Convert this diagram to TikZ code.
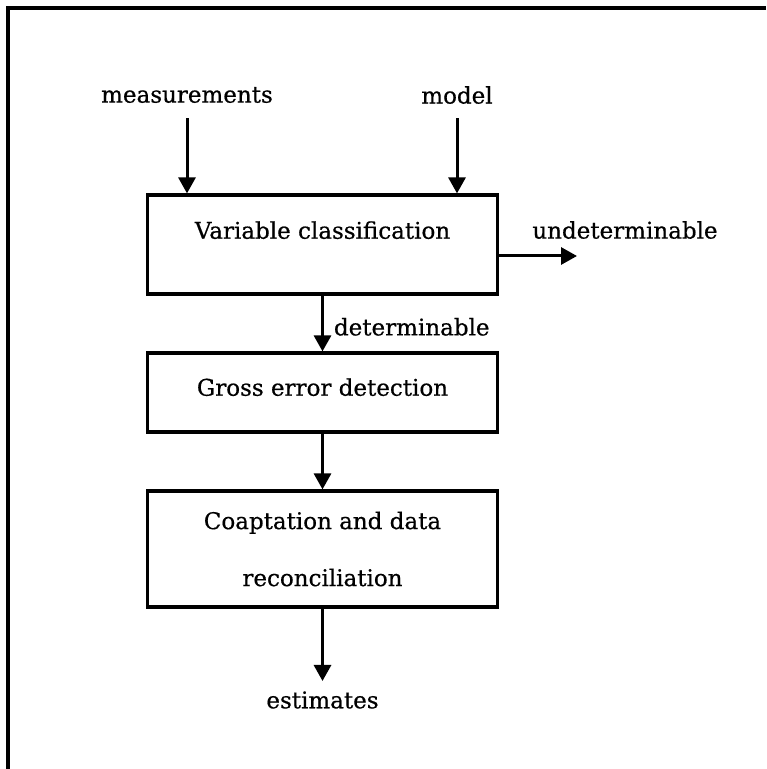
\documentclass[tikz,border=0pt]{standalone}
\usepackage{fontspec}
\setmainfont[FakeBold=0.6]{DejaVu Serif}
\usetikzlibrary{positioning,arrows.meta}

\begin{document}
\begin{tikzpicture}[
  x=0.5pt, y=-0.5pt,
  font=\fontsize{11.5pt}{28.5pt}\selectfont,
  stage/.style={draw=black, line width=1.6pt, minimum width=175pt,
                align=center, inner sep=0pt},
  lbl/.style={inner sep=5pt},
  arr/.style={-{Triangle[length=8pt,width=8.5pt]}, line width=1.5pt},
  outline/.style={line width=2pt}
]
\useasboundingbox (0,0) rectangle (766,769);
% ---------------- frame ----------------
\coordinate (fb) at (8,769);
\coordinate (fc) at (8,8);
\coordinate (fe) at (766,8);
\draw[outline] (fb) -- (fc) -- (fe);
% ---------------- stages ----------------
\node[stage, minimum height=49.5pt, text depth=14.5pt] (vc) at (322.5,244.5)
  {Variable classification};
\node[stage, minimum height=39.5pt, text depth=5.5pt] (ged) at (322.5,392.5)
  {Gross error detection};
\node[stage, minimum height=58pt] (cdr) at (322.5,549)
  {Coaptation and data\\reconciliation};
% ---------------- inputs ----------------
\node[lbl] (meas) at (187,95) {measurements};
\node[lbl] (model) at (457,95) {model};
\draw[arr, shorten <=2.5pt] (meas.south) -- (meas.south |- vc.north);
\draw[arr, shorten <=2pt] (model.south) -- (model.south |- vc.north);
% ---------------- outputs ----------------
\coordinate (ud) at (577,256);
\node[lbl] (udl) at (625,230) {undeterminable};
\draw[arr] (vc.east |- ud) -- (ud);
\draw[arr] (vc) -- node[lbl, right, pos=0.56] {determinable} (ged);
\draw[arr] (ged) -- (cdr);
\node[lbl] (est) at (322.5,700) {estimates};
\draw[arr] (cdr) -- (est);
\end{tikzpicture}
\end{document}
